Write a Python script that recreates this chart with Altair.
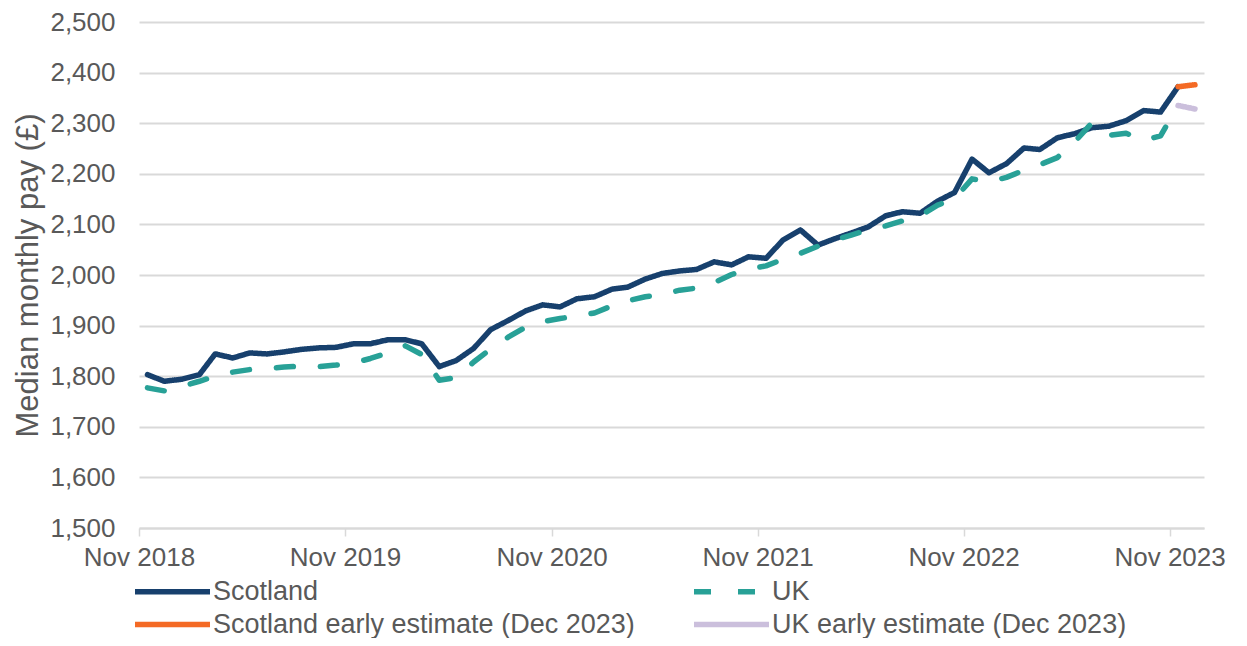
import altair as alt
import pandas as pd

series_names = [
    "Scotland",
    "UK",
    "Scotland early estimate (Dec 2023)",
    "UK early estimate (Dec 2023)",
]
series_colors = ["#17406D", "#28A197", "#F46A25", "#CBBFDC"]

# Monthly median pay, Nov 2018 .. Nov 2023 (61 months)
scotland = [
    1803, 1790, 1794, 1803, 1844, 1836, 1846, 1844, 1848, 1853, 1856, 1857,
    1864, 1864, 1872, 1872, 1864, 1819, 1831, 1855, 1892, 1910, 1929, 1941,
    1937, 1953, 1957, 1972, 1976, 1992, 2003, 2008, 2011, 2026, 2020, 2036,
    2033, 2069, 2089, 2059, 2071, 2083, 2095, 2117, 2125, 2122, 2146, 2163,
    2229, 2202, 2220, 2251, 2248, 2271, 2279, 2291, 2294, 2305, 2325, 2322,
    2372,
]
uk = [
    1777, 1771, 1780, 1790, 1800, 1808, 1813, 1815, 1818, 1820, 1819, 1822,
    1826, 1835, 1846, 1860, 1843, 1792, 1797, 1828, 1854, 1877, 1897, 1908,
    1914, 1919, 1925, 1939, 1949, 1957, 1962, 1970, 1974, 1985, 2001, 2012,
    2018, 2031, 2043, 2057, 2069, 2079, 2089, 2097, 2107, 2117, 2138, 2151,
    2190, 2184, 2193, 2207, 2218, 2232, 2262, 2300, 2276, 2280, 2266, 2275,
    2335,
]
# Early estimates: Nov 2023 -> Dec 2023
scotland_early = [2372, 2376]
uk_early = [2335, 2328]

months = pd.date_range("2018-11-01", "2023-11-01", freq="MS")
early_months = pd.date_range("2023-11-01", "2023-12-01", freq="MS")


def mid(ds):
    return [(d + pd.Timedelta(days=15)).strftime("%Y-%m-%dT00:00:00") for d in ds]


rows = []
for name, ds, vals in [
    (series_names[0], months, scotland),
    (series_names[1], months, uk),
    (series_names[2], early_months, scotland_early),
    (series_names[3], early_months, uk_early),
]:
    for d, v in zip(mid(ds), vals):
        rows.append({"series": name, "date": d, "pay": v})
df = pd.DataFrame(rows)

grey_text = "#595959"
grid_col = "#D9D9D9"
fs = 26
legend_fs = 27

x_enc = alt.X(
    "date:T",
    scale=alt.Scale(
        domain=[
            alt.DateTime(year=2018, month=11, date=1),
            alt.DateTime(year=2024, month=1, date=1),
        ]
    ),
    axis=alt.Axis(
        values=[alt.DateTime(year=y, month=11, date=1) for y in range(2018, 2024)],
        format="%b %Y",
        grid=False,
        domainColor=grid_col,
        domainWidth=2,
        tickColor=grid_col,
        tickWidth=1.5,
        tickSize=8,
        labelFontSize=fs,
        labelColor=grey_text,
        labelPadding=8,
        labelFlush=False,
        labelOverlap=False,
        title=None,
    ),
)
y_enc = alt.Y(
    "pay:Q",
    scale=alt.Scale(domain=[1500, 2500], nice=False, zero=False),
    axis=alt.Axis(
        values=list(range(1500, 2501, 100)),
        format=",d",
        grid=True,
        gridColor=grid_col,
        gridWidth=2,
        domain=False,
        ticks=False,
        labelFontSize=fs,
        labelColor=grey_text,
        labelPadding=24,
        title="Median monthly pay (£)",
        titleFontSize=31,
        titleFontWeight="normal",
        titleColor=grey_text,
        titlePadding=5,
    ),
)

# a long horizontal stroke symbol (3x the unit box) keeps rows compact
legend = alt.Legend(
    title=None,
    values=series_names,
    orient="none",
    direction="horizontal",
    legendX=18,
    legendY=554,
    columns=2,
    columnPadding=48,
    rowPadding=4,
    symbolType="M-3,0H3",
    symbolSize=625,
    symbolStrokeWidth=5.5,
    labelFontSize=legend_fs,
    labelColor=grey_text,
    labelOffset=25,
    labelLimit=1000,
    padding=0,
)

color_enc = alt.Color(
    "series:N",
    scale=alt.Scale(domain=series_names, range=series_colors),
    legend=legend,
)
dash_enc = alt.StrokeDash(
    "series:N",
    scale=alt.Scale(domain=series_names, range=[[1, 0], [17, 27], [1, 0], [1, 0]]),
    legend=legend,
)

base = alt.Chart(df)
layers = []
for name in series_names:
    layers.append(
        base.transform_filter(alt.datum.series == name)
        .mark_line(strokeWidth=5.5, strokeCap="round", strokeJoin="round")
        .encode(x=x_enc, y=y_enc, color=color_enc, strokeDash=dash_enc)
    )

chart = (
    alt.layer(*layers)
    .properties(
        width=1065,
        height=506,
        autosize=alt.AutoSizeParams(type="none"),
        padding={"left": 131, "top": 14, "right": 35, "bottom": 110},
    )
    .configure(font="Liberation Sans")
    .configure_view(stroke=None)
)

chart.save("out.html", embed_options={"renderer": "svg", "actions": False})
